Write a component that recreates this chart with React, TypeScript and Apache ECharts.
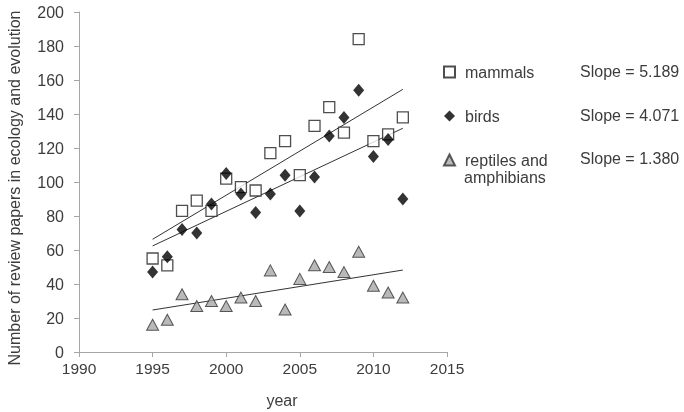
import React, { useEffect, useRef } from "react";
import * as echarts from "echarts";

const years = [1995, 1996, 1997, 1998, 1999, 2000, 2001, 2002, 2003, 2004, 2005, 2006, 2007, 2008, 2009, 2010, 2011, 2012];
const mammals = [55, 51, 83, 89, 83, 102, 97, 95, 117, 124, 104, 133, 144, 129, 184, 124, 128, 138];
const birds = [47, 56, 72, 70, 87, 105, 93, 82, 93, 104, 83, 103, 127, 138, 154, 115, 125, 90];
const reptiles = [16, 19, 34, 27, 30, 27, 32, 30, 48, 25, 43, 51, 50, 47, 59, 39, 35, 32];
const trendYears = [1995, 2012];
const trendMammals = [66.3, 154.5];
const trendBirds = [62.4, 131.6];
const trendReptiles = [24.7, 48.2];
const slopes = ["Slope = 5.189", "Slope = 4.071", "Slope = 1.380"];
const seriesNames = ["mammals", "birds", "reptiles and amphibians"];

const FONT = "'Liberation Sans', Arial, sans-serif";
const TXT = "#3c3c3c";
const AX = "#a6a6a6";

export default function App() {
  const ref = useRef<HTMLDivElement>(null);
  useEffect(() => {
    if (!ref.current) return;
    const chart = echarts.init(ref.current, null, { renderer: "svg" });
    const pts = (vals: number[], xs: number[]) => xs.map((x, i) => [x, vals[i]]);
    const trendStyle = { color: "#333", width: 1 };
    chart.setOption({
      animation: false,
      textStyle: { fontFamily: FONT },
      grid: { left: 79, right: 237, top: 12, bottom: 60, containLabel: false },
      xAxis: {
        type: "value",
        min: 1990,
        max: 2015,
        interval: 5,
        splitLine: { show: false },
        axisLine: { show: true, lineStyle: { color: AX, width: 1 } },
        axisTick: { show: true, length: 5, lineStyle: { color: AX } },
        axisLabel: { color: TXT, fontSize: 15.5, fontFamily: FONT, margin: 8, formatter: (v: number) => String(v) },
      },
      yAxis: {
        type: "value",
        min: 0,
        max: 200,
        interval: 20,
        splitLine: { show: false },
        axisLine: { show: true, lineStyle: { color: AX, width: 1 } },
        axisTick: { show: true, length: 5, lineStyle: { color: AX } },
        axisLabel: { color: TXT, fontSize: 16, fontFamily: FONT, margin: 15 },
      },
      legend: {
        orient: "vertical",
        left: 443,
        top: 63,
        padding: 0,
        itemWidth: 11,
        itemHeight: 11,
        itemGap: 26,
        selectedMode: false,
        data: seriesNames,
        formatter: (n: string) => (n === "reptiles and amphibians" ? "reptiles and" : n),
        textStyle: { color: TXT, fontSize: 16, fontFamily: FONT, lineHeight: 18, padding: [0, 0, 0, 5] },
      },
      graphic: [
        ...slopes.map((s, i) => ({
          type: "text",
          left: 580,
          top: [63, 107, 150][i],
          style: { text: s, fill: TXT, font: `16px ${FONT}` },
        })),
        {
          type: "text",
          left: 464,
          top: 169,
          style: { text: "amphibians", fill: TXT, font: `16px ${FONT}` },
        },
        {
          type: "text",
          x: 282,
          y: 400,
          style: { text: "year", fill: TXT, font: `16px ${FONT}`, align: "center", verticalAlign: "middle" },
        },
        {
          type: "text",
          x: 14,
          y: 188,
          rotation: Math.PI / 2,
          style: {
            text: "Number of review papers in ecology and evolution",
            fill: TXT,
            font: `16px ${FONT}`,
            align: "center",
            verticalAlign: "middle",
          },
        },
      ],
      series: [
        {
          name: "mammals",
          type: "scatter",
          symbol: "rect",
          symbolSize: 11,
          itemStyle: { color: "#fff", borderColor: "#222", borderWidth: 1.3 },
          data: pts(mammals, years),
          z: 3,
        },
        {
          name: "birds",
          type: "scatter",
          symbol: "diamond",
          symbolSize: [11, 13],
          itemStyle: { color: "#000" },
          data: pts(birds, years),
          z: 4,
        },
        {
          name: "reptiles and amphibians",
          type: "scatter",
          symbol: "triangle",
          symbolSize: [12, 11],
          itemStyle: { color: "#a8a8a8", borderColor: "#333", borderWidth: 1 },
          data: pts(reptiles, years),
          z: 3,
        },
        { type: "line", symbol: "none", lineStyle: trendStyle, data: pts(trendMammals, trendYears), z: 2 },
        { type: "line", symbol: "none", lineStyle: trendStyle, data: pts(trendBirds, trendYears), z: 2 },
        { type: "line", symbol: "none", lineStyle: trendStyle, data: pts(trendReptiles, trendYears), z: 2 },
      ],
    });
    return () => chart.dispose();
  }, []);
  return <div ref={ref} style={{ width: 684, height: 412, position: "fixed", left: 0, top: 0 }} />;
}
